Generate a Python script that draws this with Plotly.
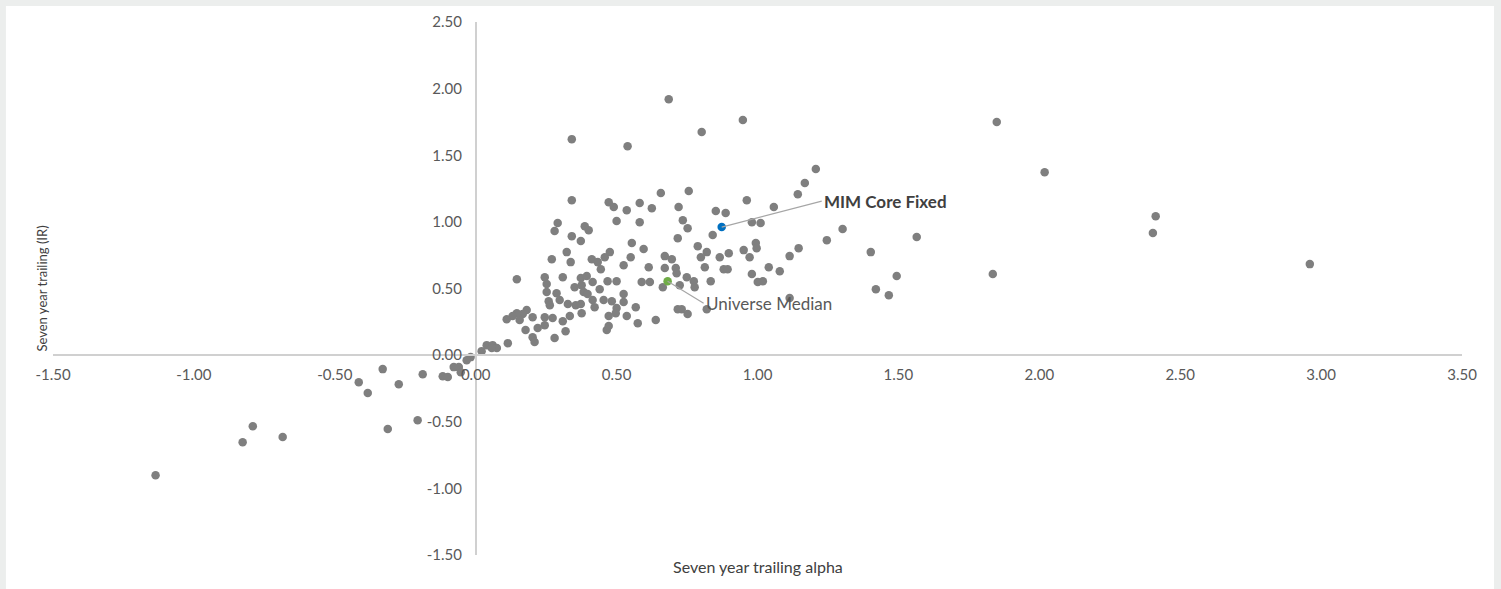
import plotly.graph_objects as go

# ---- data ----
alpha = [
    0.685, 0.341, 0.539, 0.802, 0.948, 1.849, 2.019, 2.413, 2.403, 2.960, 1.835, 1.565, 1.402, 1.494, 1.420, 1.466,
    1.207, 1.168, 1.143, 1.058, 0.962, 0.756, 0.657, 0.582, 0.625, 0.536, 0.472, 0.490, 0.341, 0.720, 0.852, 0.887,
    0.980, 1.011, 0.735, 0.752, 0.582, 0.500, 0.291, 0.280, 0.387, 0.401, 0.341, 0.373, 0.717, 0.841, 1.302, 1.246,
    0.994, 0.997, 0.554, 0.596, 0.788, 0.820, 0.799, 0.866, 0.898, 0.951, 0.972, 1.146, 1.114, 0.323, 0.270, 0.337,
    0.412, 0.458, 0.476, 0.433, 0.444, 0.525, 0.550, 0.671, 0.696, 0.614, 0.671, 0.710, 0.713, 0.813, 0.880, 0.894,
    1.040, 1.079, 0.980, 1.001, 1.019, 0.749, 0.774, 0.777, 0.834, 0.724, 0.664, 0.589, 0.618, 0.146, 0.245, 0.309,
    0.373, 0.394, 0.351, 0.376, 0.415, 0.440, 0.468, 0.500, 0.252, 0.252, 0.287, 0.298, 0.259, 0.263, 0.327, 0.355,
    0.383, 0.397, 0.415, 0.454, 0.483, 0.525, 0.525, 0.422, 0.500, 0.497, 0.472, 0.568, 0.536, 0.575, 0.639, 0.717,
    0.731, 0.752, 0.820, 0.465, 0.472, 0.376, 0.373, 0.334, 0.309, 0.273, 0.245, 0.245, 0.220, 0.202, 0.181, 0.167,
    0.156, 0.146, 0.131, 0.110, 0.177, 0.202, 0.209, 0.280, 0.319, 0.114, 1.114,
    0.021, 0.039, 0.060, 0.075, 0.057, -0.018, -0.032, -0.078, -0.060, -0.053, -0.117, -0.099, -0.188, -0.273,
    -0.330, -0.383, -0.415, -0.206, -0.312, -0.685, -0.791, -0.827, -1.136,
]
ir = [
    1.921, 1.621, 1.568, 1.674, 1.764, 1.749, 1.373, 1.043, 0.916, 0.683, 0.608, 0.886, 0.773, 0.593, 0.495, 0.450,
    1.396, 1.291, 1.208, 1.111, 1.163, 1.231, 1.216, 1.141, 1.103, 1.088, 1.148, 1.111, 1.163, 1.111, 1.081, 1.066,
    0.998, 0.991, 1.013, 0.953, 0.998, 1.006, 0.991, 0.931, 0.968, 0.938, 0.893, 0.856, 0.878, 0.901, 0.946, 0.863,
    0.841, 0.803, 0.841, 0.796, 0.818, 0.773, 0.735, 0.735, 0.765, 0.788, 0.735, 0.803, 0.743, 0.773, 0.720, 0.698,
    0.720, 0.735, 0.773, 0.698, 0.645, 0.675, 0.735, 0.743, 0.720, 0.660, 0.653, 0.653, 0.615, 0.660, 0.645, 0.645,
    0.660, 0.630, 0.608, 0.548, 0.555, 0.585, 0.555, 0.510, 0.555, 0.525, 0.510, 0.548, 0.548, 0.570, 0.585, 0.585,
    0.578, 0.593, 0.510, 0.525, 0.548, 0.495, 0.555, 0.555, 0.533, 0.473, 0.465, 0.413, 0.405, 0.375, 0.383, 0.375,
    0.473, 0.458, 0.413, 0.413, 0.405, 0.458, 0.398, 0.360, 0.353, 0.315, 0.293, 0.360, 0.293, 0.240, 0.263, 0.345,
    0.345, 0.308, 0.345, 0.188, 0.218, 0.315, 0.383, 0.293, 0.255, 0.278, 0.285, 0.225, 0.203, 0.285, 0.338, 0.308,
    0.263, 0.315, 0.293, 0.270, 0.188, 0.135, 0.098, 0.128, 0.180, 0.090, 0.428,
    0.030, 0.075, 0.075, 0.053, 0.053, -0.015, -0.038, -0.090, -0.090, -0.128, -0.158, -0.165, -0.143, -0.218,
    -0.105, -0.285, -0.203, -0.488, -0.555, -0.615, -0.533, -0.653, -0.901,
]

mim_alpha, mim_ir = [0.873], [0.961]
median_alpha, median_ir = [0.681], [0.555]

x_ticks = [-1.5, -1.0, -0.5, 0.0, 0.5, 1.0, 1.5, 2.0, 2.5, 3.0, 3.5]
x_tick_labels = ["-1.50", "-1.00", "-0.50", "0.00", "0.50", "1.00", "1.50", "2.00", "2.50", "3.00", "3.50"]
y_ticks = [-1.5, -1.0, -0.5, 0.0, 0.5, 1.0, 1.5, 2.0, 2.5]
y_tick_labels = ["-1.50", "-1.00", "-0.50", "0.00", "0.50", "1.00", "1.50", "2.00", "2.50"]

FONT = "Lato"
TICK_COLOR = "#595959"

fig = go.Figure()
fig.add_trace(go.Scatter(x=alpha, y=ir, mode="markers",
                         marker=dict(color="#7f7f7f", size=8.5, line=dict(width=0)),
                         hoverinfo="skip", showlegend=False))
fig.add_trace(go.Scatter(x=median_alpha, y=median_ir, mode="markers",
                         marker=dict(color="#70ad47", size=8.5, line=dict(width=0)),
                         hoverinfo="skip", showlegend=False))
fig.add_trace(go.Scatter(x=mim_alpha, y=mim_ir, mode="markers",
                         marker=dict(color="#0070c0", size=8.5, line=dict(width=0)),
                         hoverinfo="skip", showlegend=False))

fig.update_layout(
    width=1501, height=589,
    margin=dict(l=53, r=39, t=22, b=34),
    paper_bgcolor="#eceeed",
    plot_bgcolor="rgba(0,0,0,0)",
    font=dict(family=FONT, color=TICK_COLOR),
    showlegend=False,
    xaxis=dict(range=[-1.5, 3.5], tickvals=x_ticks, ticktext=x_tick_labels,
               anchor="free", position=0.375, showline=True, linecolor="#d0d0d0", linewidth=1.5,
               showgrid=False, zeroline=False, ticks="", ticklabelstandoff=6,
               tickfont=dict(family=FONT, size=15, color=TICK_COLOR)),
    yaxis=dict(range=[-1.5, 2.5], tickvals=y_ticks, ticktext=y_tick_labels,
               anchor="free", position=0.3, showline=True, linecolor="#d0d0d0", linewidth=1.5,
               showgrid=False, zeroline=False, ticks="", ticklabelstandoff=10,
               tickfont=dict(family=FONT, size=15, color=TICK_COLOR)),
    shapes=[dict(type="rect", xref="paper", yref="paper", x0=-0.0334, x1=1.0227, y0=-0.08, y1=1.030,
                 fillcolor="white", line=dict(width=0), layer="below")],
    annotations=[
        dict(text="Seven year trailing (IR)", xref="paper", yref="paper", x=-0.0085, y=0.5,
             xanchor="center", yanchor="middle",
             textangle=-90, showarrow=False, font=dict(family=FONT, size=13, color="#404040")),
        dict(text="Seven year trailing alpha", xref="paper", yref="paper", x=0.5, y=-0.0225,
             xanchor="center", yanchor="middle",
             showarrow=False, font=dict(family=FONT, size=16, color="#404040")),
        dict(text="<b>MIM Core Fixed</b>", x=mim_alpha[0], y=mim_ir[0], xref="x", yref="y",
             showarrow=True, arrowhead=0, arrowwidth=1.2, arrowcolor="#a6a6a6",
             ax=100, ay=-26, xanchor="left", yanchor="middle",
             font=dict(family=FONT, size=17, color="#404040")),
        dict(text="Universe Median", x=median_alpha[0], y=median_ir[0], xref="x", yref="y",
             showarrow=True, arrowhead=0, arrowwidth=1.2, arrowcolor="#a6a6a6",
             ax=36, ay=22, xanchor="left", yanchor="middle",
             font=dict(family=FONT, size=17, color=TICK_COLOR)),
    ],
)

fig.write_html("out.html", config={"displayModeBar": False},
               post_script="document.body.style.margin='0';document.body.style.overflow='hidden';")
